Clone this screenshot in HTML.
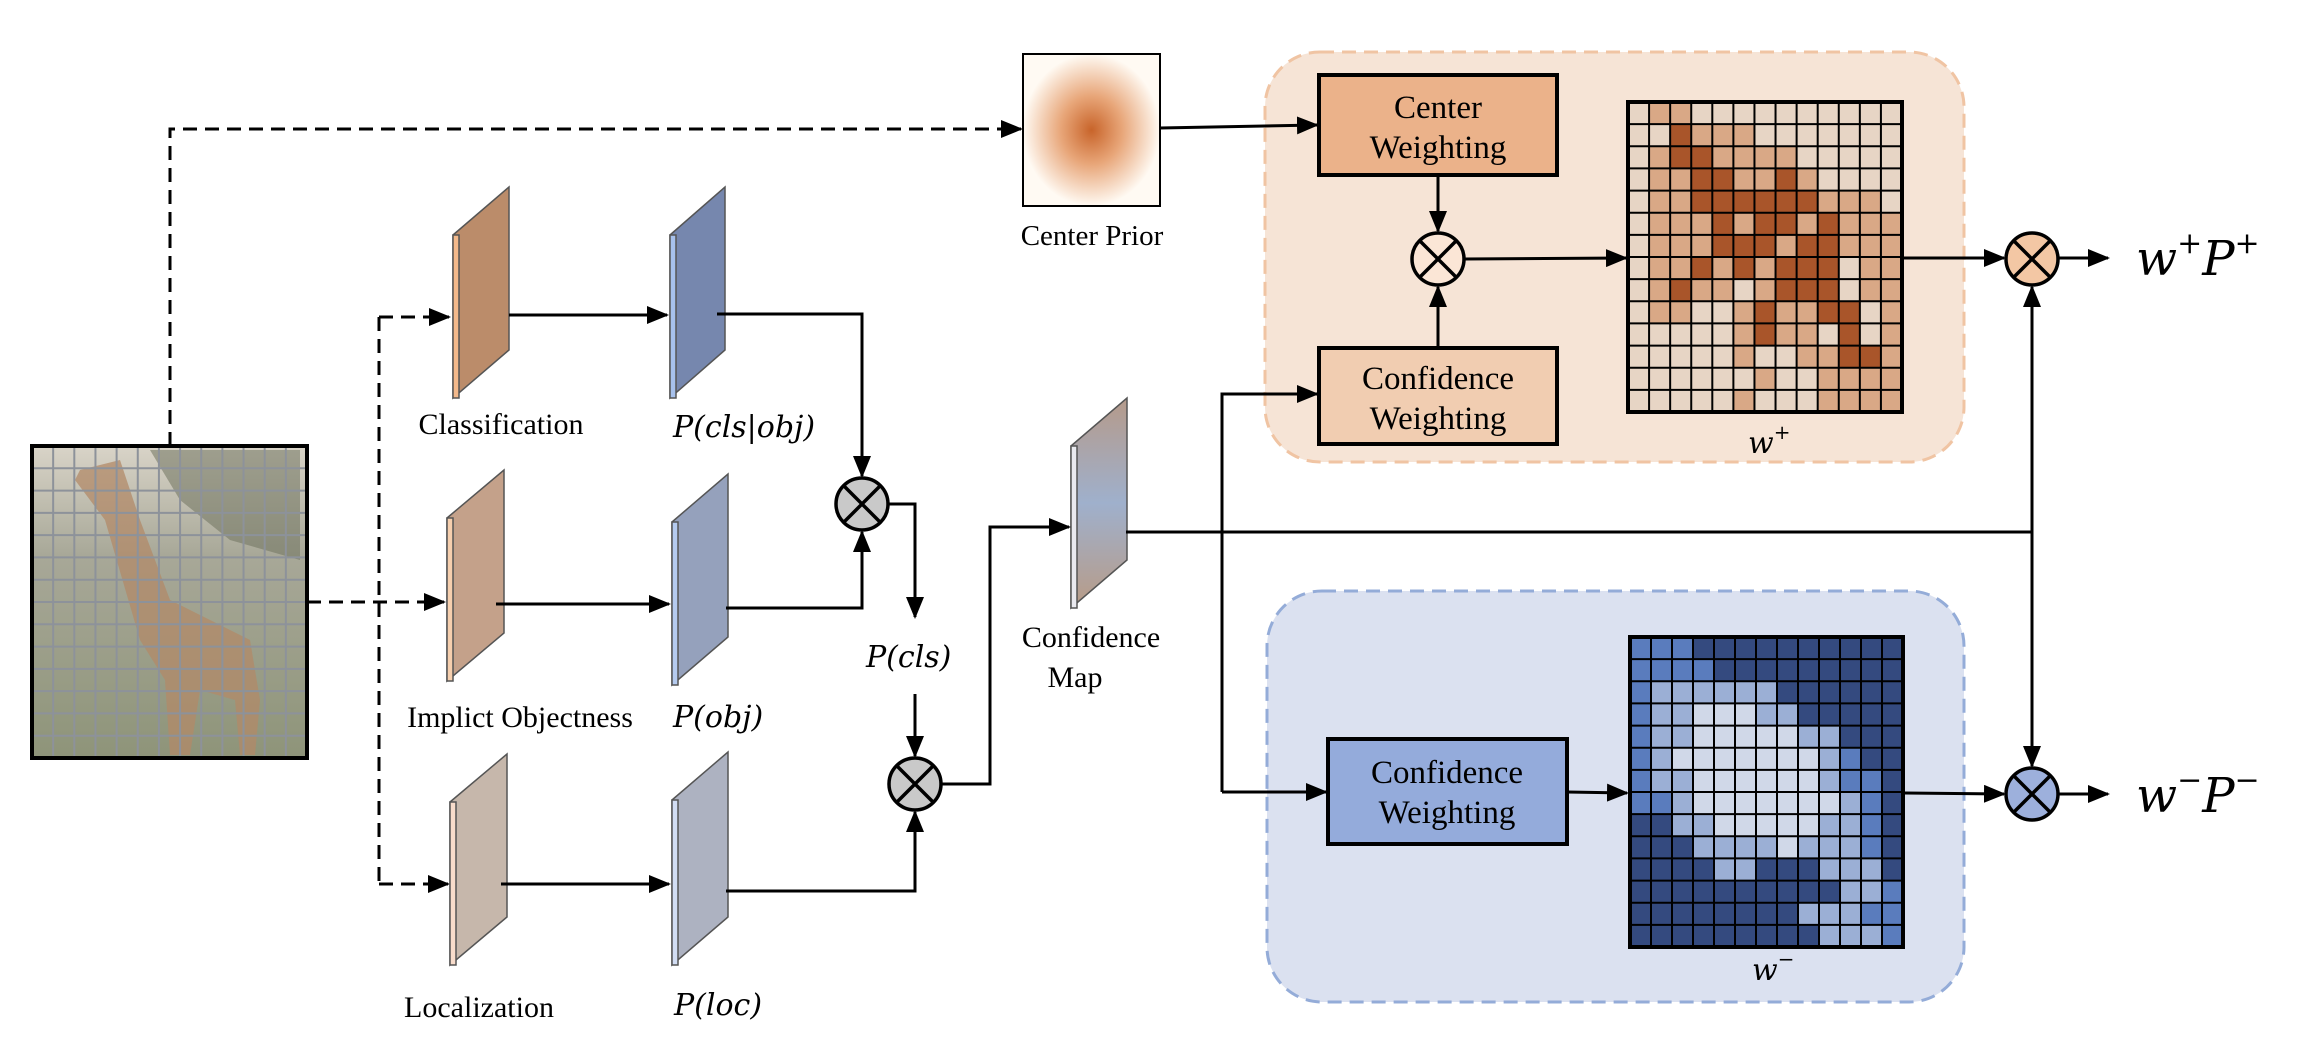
<!DOCTYPE html>
<html><head><meta charset="utf-8"><style>
html,body{margin:0;padding:0;background:#fff}
svg{display:block}
svg text{font-family:"Liberation Serif","Times New Roman",serif;fill:#000}
svg text.m{font-family:"DejaVu Serif","Liberation Serif",serif;font-style:italic}
</style></head><body>
<svg id="s" width="2302" height="1046" viewBox="0 0 2302 1046" xmlns="http://www.w3.org/2000/svg" font-family="Liberation Serif, serif">
<defs>
<marker id="a" markerWidth="22" markerHeight="18" refX="20" refY="9" orient="auto" markerUnits="userSpaceOnUse" viewBox="0 0 22 18"><path d="M0,0 L22,9 L0,18 z" fill="#000"/></marker>
<radialGradient id="cp"><stop offset="0" stop-color="#c8642a"/><stop offset="0.45" stop-color="#e8a679"/><stop offset="1" stop-color="#fffaf3"/></radialGradient>
<linearGradient id="cm" x1="0" y1="0" x2="0" y2="1"><stop offset="0" stop-color="#b59a8a"/><stop offset="0.5" stop-color="#9fb0cc"/><stop offset="1" stop-color="#b89b86"/></linearGradient>
<linearGradient id="gi" x1="0" y1="0" x2="0" y2="1"><stop offset="0" stop-color="#d9d4c8"/><stop offset="0.35" stop-color="#a8a898"/><stop offset="1" stop-color="#8e9479"/></linearGradient>
</defs>
<rect x="1265" y="52" width="699" height="410" rx="55" fill="#f6e4d6" stroke="#f0c4a3" stroke-width="3" stroke-dasharray="14 8"/>
<rect x="1267" y="591" width="697" height="411" rx="55" fill="#dbe1f0" stroke="#94acd8" stroke-width="3" stroke-dasharray="14 8"/>
<rect x="32" y="446" width="275" height="312" fill="url(#gi)"/>
<path d="M80,470 L120,460 L140,520 L170,600 L210,620 L250,640 L260,700 L255,755 L240,755 L235,700 L200,690 L190,755 L170,755 L165,680 L140,640 L105,520 L75,480 Z" fill="#b28a68" opacity="0.75"/>
<path d="M150,450 L300,450 L300,560 L230,540 L180,500 Z" fill="#6f725f" opacity="0.55"/>
<g id="gg" stroke="#8d929a" stroke-width="2"></g>
<rect x="32" y="446" width="275" height="312" fill="none" stroke="#000" stroke-width="4"/>
<rect x="1023" y="54" width="137" height="152" fill="url(#cp)" stroke="#000" stroke-width="2"/>
<text x="1092" y="245" font-size="29" text-anchor="middle">Center Prior</text>
<g fill="none" stroke="#000" stroke-width="3" stroke-dasharray="14 8">
<path d="M170,446 V129 H1021" marker-end="url(#a)"/>
<path d="M307,602 H444" marker-end="url(#a)"/>
<path d="M379,317 V884"/>
<path d="M379,317 H449" marker-end="url(#a)"/>
<path d="M379,884 H448" marker-end="url(#a)"/>
</g>
<g stroke="#555" stroke-width="1.5">
<polygon points="453,235 509,187 509,350 453,398" fill="#bb8c6a"/><rect x="453" y="235" width="6" height="163" fill="#f3b98b"/>
<polygon points="447,518 504,470 504,633 447,681" fill="#c4a18a"/><rect x="447" y="518" width="6" height="163" fill="#f6cfae"/>
<polygon points="450,802 507,754 507,917 450,965" fill="#c6b7ab"/><rect x="450" y="802" width="6" height="163" fill="#f8dccb"/>
<polygon points="670,235 725,187 725,350 670,398" fill="#7687ae"/><rect x="670" y="235" width="6" height="163" fill="#a7c1ec"/>
<polygon points="672,522 728,474 728,637 672,685" fill="#95a1bc"/><rect x="672" y="522" width="6" height="163" fill="#b5cbef"/>
<polygon points="672,800 728,752 728,917 672,965" fill="#adb2c1"/><rect x="672" y="800" width="6" height="165" fill="#d2ddf3"/>
<polygon points="1071,446 1127,398 1127,560 1071,608" fill="url(#cm)"/><rect x="1071" y="446" width="6" height="162" fill="#e9e9ef"/>
</g>
<g fill="none" stroke="#000" stroke-width="3">
<path d="M509,315 H667" marker-end="url(#a)"/>
<path d="M496,604 H669" marker-end="url(#a)"/>
<path d="M501,884 H669" marker-end="url(#a)"/>
<path d="M717,314 H862 V476" marker-end="url(#a)"/>
<path d="M726,608 H862 V532" marker-end="url(#a)"/>
<path d="M888,504 H915 V617" marker-end="url(#a)"/>
<path d="M915,694 V756" marker-end="url(#a)"/>
<path d="M726,891 H915 V812" marker-end="url(#a)"/>
<path d="M941,784 H990 V527 H1069" marker-end="url(#a)"/>
<path d="M1126,532 H2032"/>
<path d="M2032,532 V287" marker-end="url(#a)"/>
<path d="M2032,532 V766" marker-end="url(#a)"/>
<path d="M1222,792 V394 H1317" marker-end="url(#a)"/>
<path d="M1222,792 H1326" marker-end="url(#a)"/>
<path d="M1160,128 L1317,125" marker-end="url(#a)"/>
<path d="M1438,175 V231" marker-end="url(#a)"/>
<path d="M1438,348 V287" marker-end="url(#a)"/>
<path d="M1464,259 L1626,258" marker-end="url(#a)"/>
<path d="M1902,258 L2004,258" marker-end="url(#a)"/>
<path d="M2058,258 H2108" marker-end="url(#a)"/>
<path d="M1567,792 L1627,793" marker-end="url(#a)"/>
<path d="M1903,793 L2004,794" marker-end="url(#a)"/>
<path d="M2058,794 H2108" marker-end="url(#a)"/>
</g>
<rect x="1319" y="75" width="238" height="100" fill="#ebb28a" stroke="#000" stroke-width="4"/>
<text x="1438" y="118" font-size="33" text-anchor="middle">Center</text>
<text x="1438" y="158" font-size="33" text-anchor="middle">Weighting</text>
<rect x="1319" y="348" width="238" height="96" fill="#f1cdb1" stroke="#000" stroke-width="4"/>
<text x="1438" y="389" font-size="33" text-anchor="middle">Confidence</text>
<text x="1438" y="429" font-size="33" text-anchor="middle">Weighting</text>
<rect x="1328" y="739" width="239" height="105" fill="#94abdb" stroke="#000" stroke-width="4"/>
<text x="1447" y="783" font-size="33" text-anchor="middle">Confidence</text>
<text x="1447" y="823" font-size="33" text-anchor="middle">Weighting</text>
<g id="gp"></g><g id="gm"></g>
<g stroke="#000" stroke-width="3.5">
<circle cx="862" cy="504" r="26" fill="#c9c9c9"/><path d="M844,486 L880,522 M880,486 L844,522"/>
<circle cx="915" cy="784" r="26" fill="#c9c9c9"/><path d="M897,766 L933,802 M933,766 L897,802"/>
<circle cx="1438" cy="259" r="26" fill="#fbe6d6"/><path d="M1420,241 L1456,277 M1456,241 L1420,277"/>
<circle cx="2032" cy="259" r="26" fill="#f3c7a4"/><path d="M2014,241 L2050,277 M2050,241 L2014,277"/>
<circle cx="2032" cy="794" r="26" fill="#9db0dc"/><path d="M2014,776 L2050,812 M2050,776 L2014,812"/>
</g>
<text x="501" y="434" font-size="30" text-anchor="middle">Classification</text>
<text x="520" y="727" font-size="30" text-anchor="middle">Implict Objectness</text>
<text x="479" y="1017" font-size="30" text-anchor="middle">Localization</text>
<text x="1091" y="647" font-size="30" text-anchor="middle">Confidence</text>
<text x="1075" y="687" font-size="30" text-anchor="middle">Map</text>
<text class="m" x="673" y="437" font-size="30">P(cls|obj)</text>
<text class="m" x="673" y="727" font-size="30">P(obj)</text>
<text class="m" x="674" y="1015" font-size="30">P(loc)</text>
<text class="m" x="866" y="667" font-size="30">P(cls)</text>
<text class="m" x="1748" y="453" font-size="30">w<tspan font-size="20" dy="-14">+</tspan></text>
<text class="m" x="1752" y="980" font-size="30">w<tspan font-size="20" dy="-14">−</tspan></text>
<text class="m" x="2136" y="275" font-size="48">w<tspan font-size="30" dy="-22">+</tspan><tspan dy="22">P</tspan><tspan font-size="30" dy="-22">+</tspan></text>
<text class="m" x="2136" y="812" font-size="48">w<tspan font-size="30" dy="-22">−</tspan><tspan dy="22">P</tspan><tspan font-size="30" dy="-22">−</tspan></text>
</svg>
<script>
var NS="http://www.w3.org/2000/svg";
function el(p,t,a){var e=document.createElementNS(NS,t);for(var k in a)e.setAttribute(k,a[k]);p.appendChild(e);return e;}
var P=["0110000000000","0021110000000","0122111100000","0112211210000","0112222221110","0111212212111","0111222122111","0112121222011","0121101222011","0110012112201","0000012110201","0000010011221","0000001001111","0000010001111"];
var M=["1110000000000","1111000000000","1222222000000","1223332200000","1223333322000","1233333332100","1223333332110","1123333333210","0022333332210","0002222322210","0000220002220","0000000000221","0000000022211","0000000002221"];
function grid(id,x,y,w,h,map,cols){var g=document.getElementById(id);var cw=w/13,ch=h/14;
for(var r=0;r<14;r++)for(var c=0;c<13;c++)el(g,"rect",{x:x+c*cw,y:y+r*ch,width:cw+0.5,height:ch+0.5,fill:cols[+map[r][c]]});
for(var c=1;c<13;c++)el(g,"line",{x1:x+c*cw,y1:y,x2:x+c*cw,y2:y+h,stroke:"#000","stroke-width":2});
for(var r=1;r<14;r++)el(g,"line",{x1:x,y1:y+r*ch,x2:x+w,y2:y+r*ch,stroke:"#000","stroke-width":2});
el(g,"rect",{x:x,y:y,width:w,height:h,fill:"none",stroke:"#000","stroke-width":4});}
grid("gp",1628,102,274,310,P,["#e7d5c5","#d9a886","#a9552a"]);
grid("gm",1630,637,273,310,M,["#344a7f","#5a7cbd","#9bafd5","#d0d8e8"]);
var gg=document.getElementById("gg");
for(var i=1;i<13;i++)el(gg,"line",{x1:32+i*275/13,y1:446,x2:32+i*275/13,y2:758});
for(var i=1;i<14;i++)el(gg,"line",{x1:32,y1:446+i*312/14,x2:307,y2:446+i*312/14});
</script>
</body></html>
